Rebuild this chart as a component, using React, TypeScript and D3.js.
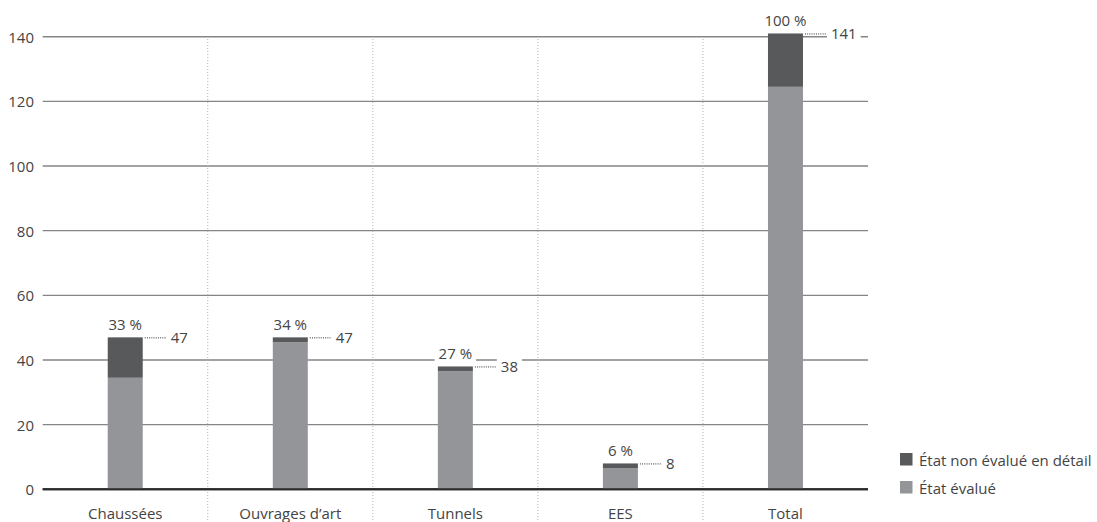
import React, { useEffect, useRef } from "react";
import * as d3 from "d3";

const categories = ["Chaussées", "Ouvrages d’art", "Tunnels", "EES", "Total"];
const evaluated = [34.5, 45.5, 36.5, 6.5, 124.5];
const notEvaluated = [12.5, 1.5, 1.5, 1.5, 16.5];
const totals = [47, 47, 38, 8, 141];
const shares = [33, 34, 27, 6, 100];
const yTicks = [0, 20, 40, 60, 80, 100, 120, 140];
const legendLabels = ["État non évalué en détail", "État évalué"];

const W = 1097;
const H = 522;
const FONT = "'Open Sans', sans-serif";
const FS = 15;
const TEXT = "#444";
const DARK = "#58595b";
const LIGHT = "#939598";

export default function App() {
  const ref = useRef<SVGSVGElement | null>(null);

  useEffect(() => {
    const svg = d3.select(ref.current);
    svg.selectAll("*").remove();

    const x = d3.scaleBand<string>().domain(categories).range([42.7, 868]).padding(0);
    const y = d3.scaleLinear().domain([0, 140]).range([489.3, 36.7]);
    const barW = 35;

    // gridlines
    const grid = svg.append("g");
    yTicks.forEach((t) => {
      grid
        .append("line")
        .attr("x1", 42.7)
        .attr("x2", 868)
        .attr("y1", y(t))
        .attr("y2", y(t))
        .attr("stroke", t === 0 ? "#2a2a2a" : "#858585")
        .attr("stroke-width", t === 0 ? 2 : 1.4);
      grid
        .append("text")
        .attr("x", 34)
        .attr("y", y(t))
        .attr("text-anchor", "end")
        .attr("dominant-baseline", "central")
        .attr("font-family", FONT)
        .attr("font-size", FS)
        .attr("fill", TEXT)
        .text(String(t));
    });

    // dotted dividers
    categories.slice(1).forEach((c) => {
      const xx = x(c)!;
      svg
        .append("line")
        .attr("x1", xx)
        .attr("x2", xx)
        .attr("y1", 39)
        .attr("y2", 522)
        .attr("stroke", "#b0b0b0")
        .attr("stroke-width", 1)
        .attr("stroke-dasharray", "1,2");
    });

    // bars
    categories.forEach((c, i) => {
      const cx = x(c)! + x.bandwidth() / 2;
      const x0 = cx - barW / 2;
      svg
        .append("rect")
        .attr("x", x0)
        .attr("width", barW)
        .attr("y", y(evaluated[i]))
        .attr("height", y(0) - y(evaluated[i]))
        .attr("fill", LIGHT);
      svg
        .append("rect")
        .attr("x", x0)
        .attr("width", barW)
        .attr("y", y(evaluated[i] + notEvaluated[i]))
        .attr("height", y(evaluated[i]) - y(evaluated[i] + notEvaluated[i]))
        .attr("fill", DARK);
    });

    // redraw baseline on top
    svg
      .append("line")
      .attr("x1", 42.7)
      .attr("x2", 868)
      .attr("y1", y(0))
      .attr("y2", y(0))
      .attr("stroke", "#2a2a2a")
      .attr("stroke-width", 2);

    // labels with knockouts
    const addLabel = (
      tx: number,
      ty: number,
      text: string,
      anchor: string,
      baseline: string,
      padX: number
    ) => {
      const g = svg.append("g");
      const r = g.append("rect").attr("fill", "#fff");
      const t = g
        .append("text")
        .attr("x", tx)
        .attr("y", ty)
        .attr("text-anchor", anchor)
        .attr("dominant-baseline", baseline)
        .attr("font-family", FONT)
        .attr("font-size", FS)
        .attr("fill", TEXT)
        .text(text);
      const bb = (t.node() as SVGTextElement).getBBox();
      r.attr("x", bb.x - padX)
        .attr("y", bb.y + 1)
        .attr("width", bb.width + padX * 2)
        .attr("height", bb.height);
    };

    categories.forEach((c, i) => {
      const cx = x(c)! + x.bandwidth() / 2;
      const top = y(totals[i]);
      const right = cx + barW / 2;
      // leader
      svg
        .append("line")
        .attr("x1", right + 2)
        .attr("x2", right + 24)
        .attr("y1", top + 0.5)
        .attr("y2", top + 0.5)
        .attr("stroke", "#333")
        .attr("stroke-width", 1)
        .attr("stroke-dasharray", "1,1.2");
      addLabel(right + 28, top, String(totals[i]), "start", "central", 4);
      addLabel(cx, top - 7, `${shares[i]} %`, "middle", "auto", 4);
    });

    // x labels
    categories.forEach((c) => {
      svg
        .append("text")
        .attr("x", x(c)! + x.bandwidth() / 2)
        .attr("y", 519)
        .attr("text-anchor", "middle")
        .attr("font-family", FONT)
        .attr("font-size", FS)
        .attr("fill", TEXT)
        .text(c);
    });

    // legend
    const legendColors = [DARK, LIGHT];
    legendLabels.forEach((l, i) => {
      const ly = 453 + i * 28;
      svg
        .append("rect")
        .attr("x", 900)
        .attr("y", ly)
        .attr("width", 12.5)
        .attr("height", 12.5)
        .attr("fill", legendColors[i]);
      svg
        .append("text")
        .attr("x", 919)
        .attr("y", ly + 6.5)
        .attr("dominant-baseline", "central")
        .attr("font-family", FONT)
        .attr("font-size", FS)
        .attr("fill", TEXT)
        .text(l);
    });
  }, []);

  return (
    <div style={{ position: "absolute", left: 0, top: 0 }}>
      <svg ref={ref} width={W} height={H} style={{ display: "block", background: "#fff" }} />
    </div>
  );
}
